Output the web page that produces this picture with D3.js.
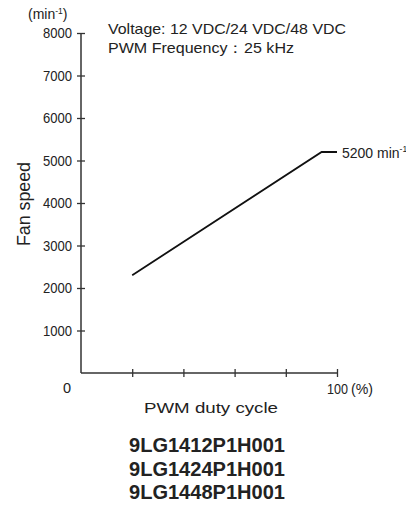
<!DOCTYPE html>
<html><head><meta charset="utf-8">
<script src="https://cdn.jsdelivr.net/npm/d3@7"></script>
<style>body{margin:0;background:#fff}svg{display:block}</style>
</head><body>
<script>
const dutyCycle = [20, 94, 100];
const fanSpeed = [2300, 5200, 5200];
const yTicks = [1000, 2000, 3000, 4000, 5000, 6000, 7000, 8000];
const xTicks = [20, 40, 60, 80, 100];
const notes = ["Voltage: 12 VDC/24 VDC/48 VDC", "PWM Frequency\uFF1A25 kHz"];
const models = ["9LG1412P1H001", "9LG1424P1H001", "9LG1448P1H001"];

const W = 406, H = 507;
const svg = d3.select("body").append("svg").attr("width", W).attr("height", H);
const x = d3.scaleLinear().domain([0, 100]).range([81, 337]);
const y = d3.scaleLinear().domain([0, 8000]).range([373, 33]);
const font = "'Liberation Sans', Arial, Helvetica, sans-serif";
const axc = "#333";
const txc = "#222";

// y axis
const gy = svg.append("g").attr("transform", `translate(${x(0)},0)`)
  .call(d3.axisLeft(y).tickValues(yTicks).tickSize(0).tickPadding(9).tickFormat(d3.format("d")));
gy.select(".domain").remove();
gy.selectAll(".tick text").attr("font-family", font).attr("font-size", 14.5).attr("fill", txc)
  .attr("textLength", 29).attr("lengthAdjust", "spacingAndGlyphs");
gy.selectAll(".tick").append("line").attr("x1", -4).attr("x2", 4).attr("stroke", axc).attr("stroke-width", 1.3);
svg.append("line").attr("x1", x(0)).attr("x2", x(0)).attr("y1", y(8000)).attr("y2", y(0)).attr("stroke", axc).attr("stroke-width", 1.5);

// x axis
const gx = svg.append("g").attr("transform", `translate(0,${y(0)})`)
  .call(d3.axisBottom(x).tickValues(xTicks).tickSize(0).tickFormat(d => d === 100 ? "100" : ""));
gx.select(".domain").remove();
gx.selectAll(".tick text").attr("font-family", font).attr("font-size", 15).attr("fill", txc)
  .attr("dy", null).attr("y", 21).attr("textLength", d => d === 100 ? 21 : null).attr("lengthAdjust", "spacingAndGlyphs");
gx.selectAll(".tick").append("line").attr("y1", -4).attr("y2", 4).attr("stroke", axc).attr("stroke-width", 1.3);
svg.append("line").attr("x1", x(0)).attr("x2", x(100)).attr("y1", y(0)).attr("y2", y(0)).attr("stroke", axc).attr("stroke-width", 1.5);

svg.append("text").attr("x", 351).attr("y", y(0) + 21).attr("font-family", font).attr("font-size", 15).attr("fill", txc)
  .attr("textLength", 22).attr("lengthAdjust", "spacingAndGlyphs").text("(%)");
svg.append("text").attr("x", 67).attr("y", 393).attr("text-anchor", "middle").attr("font-family", font).attr("font-size", 14.5).attr("fill", txc).text("0");

// unit top-left
const u = svg.append("text").attr("x", 28).attr("y", 19).attr("font-family", font).attr("font-size", 14).attr("fill", txc);
u.append("tspan").text("(min");
u.append("tspan").attr("font-size", 8.5).attr("dy", -5).text("-1");
u.append("tspan").attr("dy", 5).text(")");

// line
const pts = dutyCycle.map((d, i) => [d, fanSpeed[i]]);
svg.append("path").datum(pts)
  .attr("d", d3.line().x(d => x(d[0])).y(d => y(d[1])))
  .attr("fill", "none").attr("stroke", "#111").attr("stroke-width", 1.8);

const lab = svg.append("text").attr("x", 342).attr("y", y(5200) + 5.5).attr("font-family", font).attr("font-size", 14).attr("fill", txc);
lab.append("tspan").text("5200 min");
lab.append("tspan").attr("font-size", 8.5).attr("dy", -6).text("-1");

// notes
const noteLen = [238, 186];
notes.forEach((t, i) => {
  svg.append("text").attr("x", 108).attr("y", 33.5 + i * 19).attr("font-family", font).attr("font-size", 14.5).attr("fill", txc)
    .attr("textLength", noteLen[i]).attr("lengthAdjust", "spacingAndGlyphs").text(t);
});

// axis titles
svg.append("text").attr("transform", "translate(30,204) rotate(-90)").attr("text-anchor", "middle")
  .attr("font-family", font).attr("font-size", 18).attr("fill", txc)
  .attr("textLength", 84).attr("lengthAdjust", "spacingAndGlyphs").text("Fan speed");
svg.append("text").attr("x", 211).attr("y", 412.5).attr("text-anchor", "middle")
  .attr("font-family", font).attr("font-size", 15.5).attr("fill", txc)
  .attr("textLength", 134).attr("lengthAdjust", "spacingAndGlyphs").text("PWM duty cycle");

models.forEach((m, i) => {
  svg.append("text").attr("x", 207).attr("y", 452 + i * 23.5).attr("text-anchor", "middle")
    .attr("font-family", font).attr("font-weight", "bold").attr("font-size", 20).attr("fill", txc)
    .attr("textLength", 156).attr("lengthAdjust", "spacingAndGlyphs").text(m);
});
</script>
</body></html>
